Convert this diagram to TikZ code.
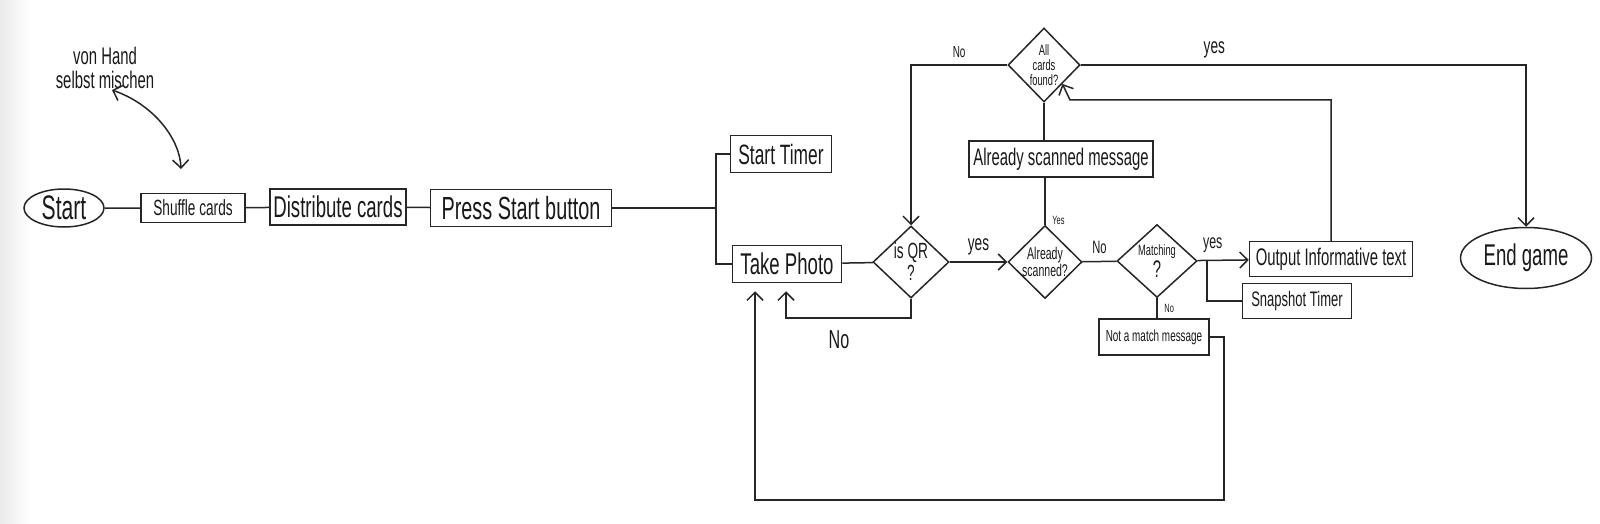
\documentclass[tikz,border=0pt]{standalone}
\usepackage{fontspec}
\newfontfamily\handfont[FakeStretch=0.62]{Liberation Sans}
\newcommand{\handsz}[1]{\handfont\fontsize{#1}{#1}\selectfont}
\usetikzlibrary{arrows.meta,shapes.geometric}

\tikzset{
  flow/.style={line width=0.75pt, draw=black!85, text=black!90, >={Straight Barb[length=4pt,width=8pt]}},
  box/.style={draw, rectangle, inner sep=0pt},
  term/.style={draw, ellipse, inner sep=0pt},
  dec/.style={draw, diamond, inner sep=0pt},
}

\begin{document}
\begin{tikzpicture}[x=0.5pt, y=-0.5pt, flow]
\useasboundingbox (0,0) rectangle (1600,524);
\shade[left color=black!8, right color=white, draw=none] (0,0) rectangle (30,524);

% Vorbereitung
\node[term, minimum width=40pt, minimum height=19pt, font=\handsz{17}] (start) at (64,208) {Start};
\node[box, minimum width=52pt, minimum height=14.5pt, font=\handsz{11}] (shuffle) at (193,208) {Shuffle cards};
\node[box, minimum width=68pt, minimum height=18pt, font=\handsz{15}] (distribute) at (338,207) {Distribute cards};
\node[box, minimum width=90.5pt, minimum height=18.5pt, font=\handsz{16}] (press) at (521,208) {Press Start button};
\node[font=\handsz{12}, align=center] (note) at (105,68) {von Hand\\selbst mischen};

% Spielrunde
\node[box, minimum width=50.5pt, minimum height=18.5pt, font=\handsz{14}] (timer) at (781,154) {Start Timer};
\node[box, minimum width=54.5pt, minimum height=18.5pt, font=\handsz{15}] (photo) at (787,264) {Take Photo};
\node[dec, minimum width=38pt, minimum height=36pt,
  label={[font=\handsz{11}, align=center]center:is QR\\?}] (isqr) at (911,262) {};
\node[dec, minimum width=37pt, minimum height=36.5pt,
  label={[font=\handsz{8.5}, align=center]center:Already\\scanned?}] (ascan) at (1045,262) {};
\node[dec, minimum width=40pt, minimum height=36.5pt,
  label={[font=\handsz{7.5}, align=center]center:Matching\\{\handsz{12}?}}] (match) at (1157,261) {};
\node[dec, minimum width=36pt, minimum height=37pt,
  label={[font=\handsz{7.5}, align=center]center:All\\cards\\found?}] (acf) at (1044,65) {};
\node[box, minimum width=92pt, minimum height=18pt, font=\handsz{12}] (amsg) at (1061,159) {Already scanned message};
\node[box, minimum width=81.5pt, minimum height=17.5pt, font=\handsz{12}] (out) at (1331,259) {Output Informative text};
\node[box, minimum width=54.5pt, minimum height=17.5pt, font=\handsz{10.5}] (snap) at (1297,301) {Snapshot Timer};
\node[box, minimum width=55pt, minimum height=18pt, font=\handsz{8}] (notm) at (1154,337) {Not a match message};
\node[term, minimum width=65.5pt, minimum height=30.5pt, font=\handsz{15}] (endg) at (1526,258) {End game};

% Verbindungen
\coordinate (notetip) at (112,90);
\coordinate (shuftip) at (181,169);
\draw[<->] (notetip) .. controls (155,105) and (180,140) .. (shuftip);

\draw (start) -- (shuffle) -- (distribute) -- (press);
\coordinate (split) at (716,208);
\draw (press) -- (split);
\draw (split) |- (timer.west);
\draw (split) |- (photo.west);
\draw (photo) -- (isqr);
\draw[->] (isqr) -- node[above, font=\handsz{11}] {yes} (ascan);

\coordinate (qrno) at (786,318);
\draw[->] (isqr.south) |- (qrno) -- ([yshift=-4pt]qrno |- photo.south);
\node[font=\handsz{13}] (qrnolab) at (839,340) {No};

\draw (ascan.north) -- node[pos=0.1, right, font=\handsz{6}] {Yes} (ascan.north |- amsg.south);
\draw (acf.south) -- (acf.south |- amsg.north);
\draw (ascan) -- node[above, font=\handsz{9}] {No} (match);
\draw[->] (match) -- node[pos=0.3, above, font=\handsz{10}] {yes} (out);
\coordinate (snapsplit) at (1207,260);
\draw (snapsplit) |- (snap.west);
\draw (match.south) -- node[right, font=\handsz{6}] {No} (match.south |- notm.north);

\coordinate (loopr) at (1224,500);
\coordinate (loopl) at (755,500);
\draw[->] (notm.east) -| (loopr) -- (loopl) -- ([yshift=-4pt]loopl |- photo.south);

\coordinate (back) at (1070,100);
\draw[->] (out.north) |- (back) -- (acf.south east);
\draw[->] (acf.west) -| node[pos=0.25, above, font=\handsz{8}] {No} (isqr.north);
\draw[->] (acf.east) -| node[pos=0.15, above, font=\handsz{11}] {yes} (endg.north);
\end{tikzpicture}
\end{document}
